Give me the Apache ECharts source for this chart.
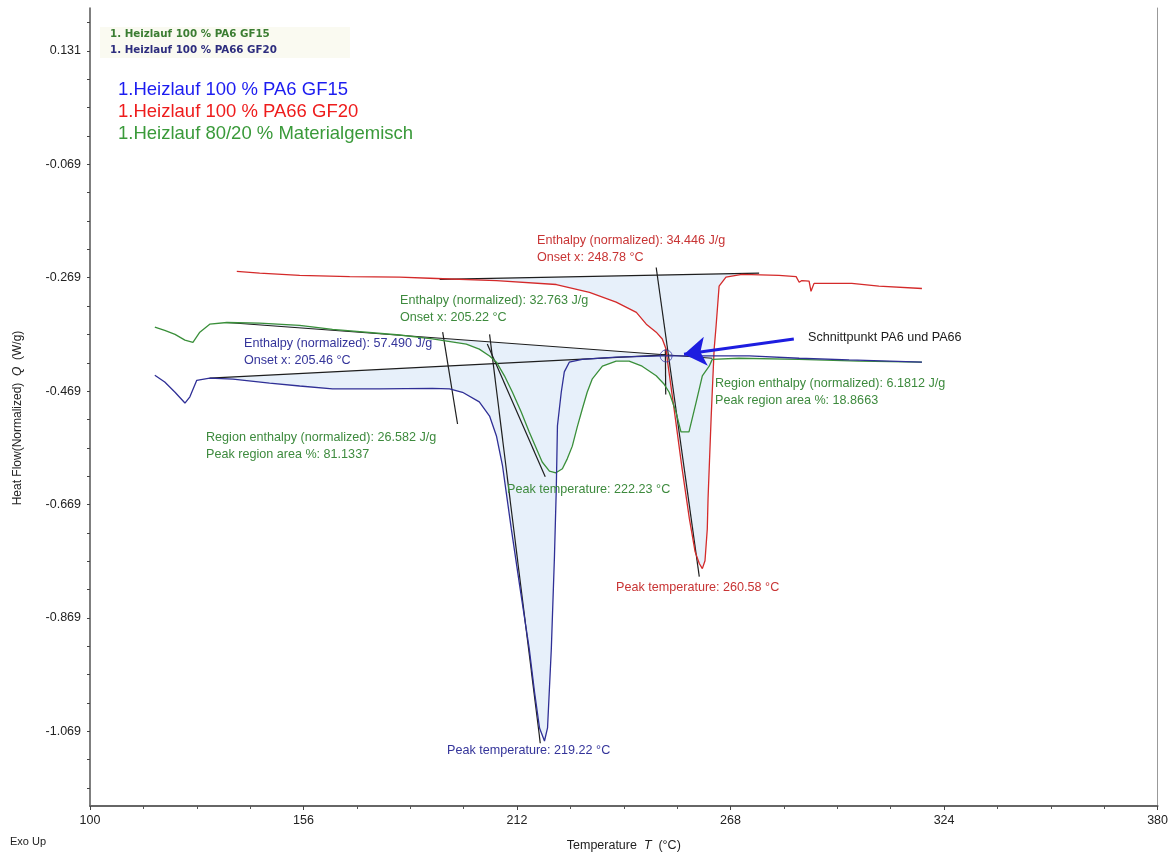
<!DOCTYPE html>
<html>
<head>
<meta charset="utf-8">
<script src="https://cdn.jsdelivr.net/npm/echarts@6/dist/echarts.min.js"></script>
<style>
html,body{margin:0;padding:0;background:#fff}
#chart{width:1171px;height:857px}
</style>
</head>
<body>
<div id="chart"></div>
<script>
// DSC first heating run: temperature T (°C) vs. normalized heat flow Q (W/g)
const pa6 = [
  [117.0,-0.441],[119.6,-0.453],[122.3,-0.471],[124.9,-0.490],[126.2,-0.479],[128.0,-0.450],
  [131.4,-0.446],[137.5,-0.448],[147.1,-0.455],[155.0,-0.460],[163.6,-0.465],[176.0,-0.465],
  [189.8,-0.464],[194.3,-0.465],[197.7,-0.471],[202.1,-0.488],[204.8,-0.513],[206.6,-0.548],
  [208.2,-0.601],[210.5,-0.712],[212.8,-0.817],[215.2,-0.923],[216.6,-1.000],[217.9,-1.063],
  [219.2,-1.086],[220.0,-1.063],[221.0,-0.923],[221.8,-0.764],[222.3,-0.641],[222.6,-0.530],
  [223.6,-0.471],[224.4,-0.435],[225.7,-0.418],[229.1,-0.413],[238.0,-0.409],[250.1,-0.407],
  [259.8,-0.407],[272.9,-0.407],[286.0,-0.411],[299.1,-0.414],[318.2,-0.418]
];
const pa66 = [
  [138.5,-0.258],[144.5,-0.261],[155.0,-0.265],[168.1,-0.267],[181.2,-0.268],[189.1,-0.270],
  [206.6,-0.274],[222.3,-0.281],[231.0,-0.295],[238.0,-0.312],[243.3,-0.330],[245.9,-0.351],
  [248.5,-0.365],[250.1,-0.377],[251.1,-0.395],[251.4,-0.413],[253.2,-0.501],[255.3,-0.606],
  [257.2,-0.694],[258.7,-0.752],[259.8,-0.773],[260.6,-0.782],[261.3,-0.768],[261.9,-0.712],
  [262.1,-0.659],[262.4,-0.606],[262.9,-0.518],[263.2,-0.471],[263.7,-0.395],[264.2,-0.355],
  [265.0,-0.284],[266.8,-0.268],[271.0,-0.263],[280.7,-0.265],[285.2,-0.267],[286.0,-0.277],
  [286.7,-0.274],[288.6,-0.275],[289.1,-0.293],[289.9,-0.279],[299.8,-0.279],[306.9,-0.284],
  [318.2,-0.288]
];
const mix = [
  [117.0,-0.356],[119.6,-0.362],[122.3,-0.369],[124.9,-0.379],[127.0,-0.383],[128.8,-0.365],
  [131.4,-0.351],[135.9,-0.348],[144.5,-0.349],[155.0,-0.353],[163.6,-0.360],[181.2,-0.370],
  [189.8,-0.377],[198.7,-0.386],[202.1,-0.395],[204.8,-0.407],[206.6,-0.418],[208.7,-0.442],
  [210.8,-0.471],[213.1,-0.506],[215.2,-0.541],[218.6,-0.594],[220.5,-0.610],[222.2,-0.613],
  [223.9,-0.606],[225.2,-0.588],[226.5,-0.566],[227.8,-0.532],[229.1,-0.501],[230.4,-0.471],
  [231.7,-0.448],[234.4,-0.425],[238.0,-0.416],[241.4,-0.416],[244.8,-0.425],[248.5,-0.442],
  [250.6,-0.457],[251.9,-0.471],[253.7,-0.506],[255.0,-0.541],[257.1,-0.541],[259.0,-0.488],
  [260.6,-0.442],[262.4,-0.425],[263.2,-0.413],[270.2,-0.411],[286.0,-0.413],[301.7,-0.416],
  [318.2,-0.418]
];

// integration baselines, onset tangents and region limits
const baselinePA6 = [[131.4,-0.446],[251.1,-0.405]];
const baselinePA66 = [[191.7,-0.272],[275.5,-0.261]];
const baselineMix = [[135.9,-0.348],[263.2,-0.411]];
const tangentPA6 = [[204.8,-0.369],[218.1,-1.090]];
const tangentMix = [[204.2,-0.386],[219.4,-0.620]];
const tangentPA66 = [[248.5,-0.251],[259.8,-0.796]];
const regionStartMix = [[192.5,-0.365],[196.4,-0.527]];
const regionSplitMix = [[250.9,-0.395],[251.0,-0.475]];
const intersection = [[251.1,-0.407]];
const arrowPath = [[284.6,-0.377],[255.8,-0.404]];

const yTickLabels = [0.131,-0.069,-0.269,-0.469,-0.669,-0.869,-1.069];
const yMinorTicks = [];
for (let k = -1.169; k < 0.2; k += 0.05) yMinorTicks.push(+k.toFixed(3));

const FONT = "'Liberation Sans', Arial, sans-serif";
const C_BLUE = '#2f2f96', C_RED = '#d42a2a', C_GREEN = '#3a8f3a', C_FILL = '#e7f0fa', C_BLACK = '#1e1e1e';

function region(curve, base) {
  const a = base[0], b = base[1];
  return [a].concat(curve.filter(p => p[0] > a[0] && p[0] < b[0])).concat([b]);
}
function fillSeries(pts) {
  return {
    type: 'custom', coordinateSystem: 'cartesian2d', silent: true, z: 1,
    data: [pts[0]],
    renderItem: (params, api) => ({
      type: 'polygon',
      shape: { points: pts.map(p => api.coord(p)) },
      style: { fill: C_FILL }
    })
  };
}
function lineSeries(data, color, width, z) {
  return {
    type: 'line', data: data, showSymbol: false, silent: true, z: z || 3,
    lineStyle: { color: color, width: width }, animation: false
  };
}
function note(x, y, lines, color) {
  return {
    type: 'text', left: x, top: y, silent: true, z: 50,
    style: { text: lines.join('\n'), fill: color, font: '12.6px ' + FONT, lineHeight: 17 }
  };
}

const chart = echarts.init(document.getElementById('chart'));
chart.setOption({
  animation: false,
  grid: { left: 90, right: 12, top: 8, bottom: 49 },
  xAxis: {
    type: 'value', min: 100, max: 380, interval: 56,
    name: 'Temperature  {i|T}  (°C)', nameLocation: 'middle', nameGap: 33,
    nameTextStyle: { fontSize: 12.5, fontFamily: FONT, color: '#222', rich: { i: { fontStyle: 'italic', fontSize: 12.5, fontFamily: FONT } } },
    axisLine: { onZero: false, lineStyle: { color: '#666', width: 2 } },
    axisTick: { length: 4, lineStyle: { color: '#444' } },
    minorTick: { show: true, splitNumber: 4, length: 3, lineStyle: { color: '#555' } },
    axisLabel: { fontSize: 12.5, fontFamily: FONT, color: '#222', margin: 8 },
    splitLine: { show: false }
  },
  yAxis: [{
    type: 'value', min: -1.2006, max: 0.2066,
    name: 'Heat Flow(Normalized)  {i|Q}  (W/g)', nameLocation: 'middle', nameGap: 66, nameRotate: 90,
    nameTextStyle: { fontSize: 12, fontFamily: FONT, color: '#222', padding: [0, 22, 0, 0], rich: { i: { fontStyle: 'italic', fontSize: 12, fontFamily: FONT } } },
    axisLine: { show: true, onZero: false, lineStyle: { color: '#555', width: 1.5 } },
    axisTick: { show: true, length: 3, customValues: yMinorTicks, lineStyle: { color: '#444' } },
    axisLabel: { customValues: yTickLabels, formatter: v => v.toFixed(3), fontSize: 12.5, fontFamily: FONT, color: '#222', margin: 9 },
    splitLine: { show: false }
  }, {
    type: 'value', min: -1.2006, max: 0.2066, position: 'right',
    axisLine: { show: true, onZero: false, lineStyle: { color: '#999', width: 1 } },
    axisTick: { show: false }, axisLabel: { show: false }, splitLine: { show: false }
  }],
  graphic: [
    { type: 'rect', left: 100, top: 27, z: 40, shape: { width: 250, height: 31 }, style: { fill: '#fafaf1' }, silent: true },
    { type: 'text', left: 110, top: 29, z: 50, style: { text: '1. Heizlauf 100 % PA6 GF15', fill: '#3b7d32', font: 'bold 10.3px "DejaVu Sans", sans-serif' } },
    { type: 'text', left: 110, top: 45, z: 50, style: { text: '1. Heizlauf 100 % PA66 GF20', fill: '#2d2d7e', font: 'bold 10.3px "DejaVu Sans", sans-serif' } },
    { type: 'text', left: 118, top: 80, z: 50, style: { text: '1.Heizlauf 100 % PA6 GF15', fill: '#1c1cf0', font: '18.5px ' + FONT } },
    { type: 'text', left: 118, top: 102, z: 50, style: { text: '1.Heizlauf 100 % PA66 GF20', fill: '#ee1c1c', font: '18.5px ' + FONT } },
    { type: 'text', left: 118, top: 124, z: 50, style: { text: '1.Heizlauf 80/20 % Materialgemisch', fill: '#3a9a3a', font: '18.5px ' + FONT } },
    note(537, 232, ['Enthalpy (normalized): 34.446 J/g', 'Onset x: 248.78 °C'], '#c83434'),
    note(400, 292, ['Enthalpy (normalized): 32.763 J/g', 'Onset x: 205.22 °C'], '#3d8a3d'),
    note(244, 335, ['Enthalpy (normalized): 57.490 J/g', 'Onset x: 205.46 °C'], '#34349a'),
    note(206, 429, ['Region enthalpy (normalized): 26.582 J/g', 'Peak region area %: 81.1337'], '#3d8a3d'),
    note(715, 375, ['Region enthalpy (normalized): 6.1812 J/g', 'Peak region area %: 18.8663'], '#3d8a3d'),
    note(507, 481, ['Peak temperature: 222.23 °C'], '#3d8a3d'),
    note(616, 579, ['Peak temperature: 260.58 °C'], '#c83434'),
    note(447, 742, ['Peak temperature: 219.22 °C'], '#34349a'),
    note(808, 329, ['Schnittpunkt PA6 und PA66'], '#1a1a1a'),
    { type: 'text', left: 10, top: 836, z: 50, style: { text: 'Exo Up', fill: '#222', font: '11px ' + FONT } }
  ],
  series: [
    fillSeries(region(pa66, baselinePA66)),
    fillSeries(region(mix, baselineMix)),
    fillSeries(region(pa6, baselinePA6)),
    lineSeries(baselinePA66, C_BLACK, 1.2, 2),
    lineSeries(baselineMix, C_BLACK, 1.2, 2),
    lineSeries(baselinePA6, C_BLACK, 1.2, 2),
    lineSeries(tangentPA6, C_BLACK, 1.2, 2),
    lineSeries(tangentMix, C_BLACK, 1.2, 2),
    lineSeries(tangentPA66, C_BLACK, 1.2, 2),
    lineSeries(regionStartMix, C_BLACK, 1.2, 2),
    lineSeries(regionSplitMix, C_BLACK, 1.2, 2),
    lineSeries(pa66, C_RED, 1.3, 4),
    lineSeries(mix, C_GREEN, 1.3, 4),
    lineSeries(pa6, C_BLUE, 1.3, 5),
    {
      type: 'scatter', data: intersection, symbol: 'circle', symbolSize: 12, z: 6, silent: true,
      itemStyle: { color: 'rgba(0,0,0,0)', borderColor: '#3a3aa8', borderWidth: 1 }
    },
    {
      type: 'lines', coordinateSystem: 'cartesian2d', z: 7, silent: true,
      symbol: ['none', 'arrow'], symbolSize: 22,
      lineStyle: { color: '#1d1de0', width: 3, opacity: 1 },
      data: [{ coords: arrowPath }]
    }
  ]
});
</script>
</body>
</html>
